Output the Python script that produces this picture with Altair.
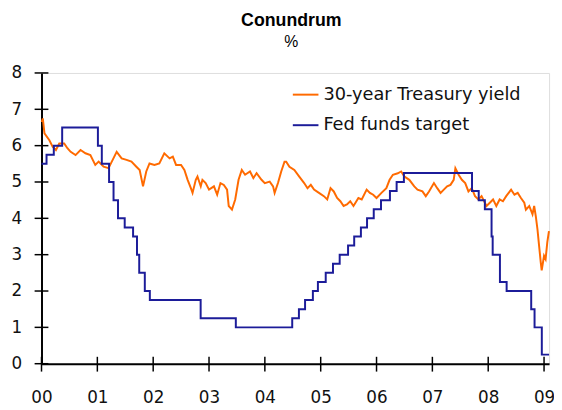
import altair as alt
import pandas as pd

# 30-year Treasury yield (decimal year, %)
ty_year = [2000.005, 2000.023, 2000.053, 2000.141, 2000.199, 2000.258, 2000.318, 2000.406, 2000.464, 2000.522,
           2000.610, 2000.699, 2000.787, 2000.875, 2000.963, 2001.023, 2001.112, 2001.200, 2001.288, 2001.346,
           2001.435, 2001.523, 2001.611, 2001.699, 2001.758, 2001.818, 2001.876, 2001.934, 2002.022, 2002.110,
           2002.199, 2002.294, 2002.352, 2002.410, 2002.499, 2002.559, 2002.617, 2002.675, 2002.705, 2002.763,
           2002.793, 2002.852, 2002.882, 2002.940, 2003.000, 2003.088, 2003.146, 2003.205, 2003.265, 2003.323,
           2003.353, 2003.411, 2003.469, 2003.529, 2003.587, 2003.646, 2003.734, 2003.794, 2003.852, 2003.940,
           2003.999, 2004.087, 2004.147, 2004.175, 2004.235, 2004.293, 2004.352, 2004.382, 2004.440, 2004.528,
           2004.616, 2004.704, 2004.764, 2004.823, 2004.881, 2004.969, 2005.057, 2005.117, 2005.176, 2005.234,
           2005.294, 2005.352, 2005.410, 2005.470, 2005.529, 2005.587, 2005.675, 2005.735, 2005.823, 2005.881,
           2005.940, 2006.000, 2006.088, 2006.176, 2006.234, 2006.293, 2006.381, 2006.441, 2006.499, 2006.587,
           2006.676, 2006.734, 2006.822, 2006.882, 2006.940, 2007.028, 2007.087, 2007.147, 2007.205, 2007.264,
           2007.324, 2007.382, 2007.412, 2007.470, 2007.528, 2007.588, 2007.646, 2007.705, 2007.764, 2007.823,
           2007.881, 2007.969, 2008.029, 2008.087, 2008.145, 2008.205, 2008.264, 2008.322, 2008.410, 2008.470,
           2008.528, 2008.586, 2008.646, 2008.675, 2008.735, 2008.793, 2008.823, 2008.852, 2008.882, 2008.911,
           2008.941, 2008.958, 2009.000, 2009.028, 2009.058, 2009.088]
ty_value = [6.65, 6.75, 6.34, 6.15, 5.97, 5.88, 6.06, 6.06, 5.93, 5.83,
            5.74, 5.88, 5.79, 5.74, 5.47, 5.56, 5.42, 5.38, 5.65, 5.83,
            5.65, 5.61, 5.56, 5.42, 5.33, 4.88, 5.29, 5.51, 5.47, 5.51,
            5.79, 5.65, 5.70, 5.47, 5.47, 5.33, 5.06, 4.83, 4.70, 5.06,
            5.15, 4.88, 5.06, 4.97, 4.79, 4.88, 4.65, 4.97, 4.92, 4.79,
            4.34, 4.24, 4.52, 5.06, 5.33, 5.20, 5.29, 5.11, 5.24, 5.06,
            4.97, 5.01, 4.88, 4.70, 4.97, 5.29, 5.56, 5.56, 5.42, 5.33,
            5.15, 4.97, 4.83, 4.92, 4.79, 4.70, 4.61, 4.52, 4.83, 4.74,
            4.56, 4.47, 4.34, 4.38, 4.47, 4.34, 4.56, 4.52, 4.79, 4.70,
            4.65, 4.56, 4.70, 4.83, 5.06, 5.20, 5.24, 5.29, 5.15, 5.06,
            4.88, 4.79, 4.74, 4.61, 4.74, 4.97, 4.83, 4.70, 4.79, 4.88,
            4.92, 5.06, 5.38, 5.20, 5.06, 4.97, 4.74, 4.83, 4.61, 4.52,
            4.61, 4.34, 4.43, 4.52, 4.34, 4.52, 4.47, 4.61, 4.79, 4.65,
            4.70, 4.56, 4.43, 4.24, 4.34, 4.11, 4.34, 4.06, 3.70, 3.25,
            2.79, 2.57, 2.97, 2.88, 3.34, 3.65]

# Fed funds target (decimal year of change, new level %)
ff_year = [2000.00, 2000.09, 2000.22, 2000.37, 2001.01, 2001.08, 2001.21, 2001.29, 2001.37, 2001.49,
           2001.64, 2001.71, 2001.75, 2001.85, 2001.94, 2002.85, 2003.48, 2004.49, 2004.61, 2004.72,
           2004.86, 2004.95, 2005.09, 2005.22, 2005.34, 2005.49, 2005.60, 2005.72, 2005.83, 2005.95,
           2006.08, 2006.24, 2006.36, 2006.49, 2007.71, 2007.83, 2007.94, 2008.06, 2008.08, 2008.21,
           2008.33, 2008.77, 2008.83, 2008.96, 2009.09]
ff_value = [5.50, 5.75, 6.00, 6.50, 6.00, 5.50, 5.00, 4.50, 4.00, 3.75,
            3.50, 3.00, 2.50, 2.00, 1.75, 1.25, 1.00, 1.25, 1.50, 1.75,
            2.00, 2.25, 2.50, 2.75, 3.00, 3.25, 3.50, 3.75, 4.00, 4.25,
            4.50, 4.75, 5.00, 5.25, 4.75, 4.50, 4.25, 3.50, 3.00, 2.25,
            2.00, 1.50, 1.00, 0.25, 0.25]

series_names = ["30-year Treasury yield", "Fed funds target"]
series_colors = ["#FF6A00", "#1C1C99"]
x_ticks = [2000, 2001, 2002, 2003, 2004, 2005, 2006, 2007, 2008, 2009]
y_ticks = [0, 1, 2, 3, 4, 5, 6, 7, 8]

ty = pd.DataFrame({"year": ty_year, "value": ty_value, "series": series_names[0]})
ff = pd.DataFrame({"year": ff_year, "value": ff_value, "series": series_names[1]})
xt = pd.DataFrame({"year": x_ticks})
yt = pd.DataFrame({"value": y_ticks})

W, H = 515, 295
FONT = "DejaVu Sans"

xscale = alt.Scale(domain=[2000, 2009.09], nice=False, zero=False)
yscale = alt.Scale(domain=[0, 8], nice=False)
color = alt.Color("series:N",
                  scale=alt.Scale(domain=series_names, range=series_colors),
                  legend=alt.Legend(title=None, orient="none", legendX=254, legendY=8,
                                    symbolType="stroke", symbolSize=676, symbolStrokeWidth=2,
                                    labelFont=FONT, labelFontSize=18, labelColor="#111",
                                    labelLimit=0, labelOffset=4, rowPadding=8))

xaxis = alt.Axis(values=x_ticks, labelExpr="substring(toString(datum.value), 2, 4)",
                 title=None, grid=False, ticks=False, domain=True, domainColor="#000",
                 domainWidth=2, labelFont=FONT, labelFontSize=17, labelColor="#111",
                 labelPadding=26, labelOverlap=False, labelFlush=False, labelAlign="center")
yaxis = alt.Axis(values=y_ticks, title=None, grid=False, ticks=False, domain=True,
                 domainColor="#000", domainWidth=2, labelFont=FONT, labelFontSize=17,
                 labelColor="#111", labelPadding=20, labelOverlap=False, labelFlush=False)

ty_line = alt.Chart(ty).mark_line(strokeWidth=2).encode(
    x=alt.X("year:Q", scale=xscale, axis=xaxis),
    y=alt.Y("value:Q", scale=yscale, axis=yaxis),
    color=color,
)
ff_line = alt.Chart(ff).mark_line(strokeWidth=2, interpolate="step-after").encode(
    x=alt.X("year:Q", scale=xscale, axis=xaxis),
    y=alt.Y("value:Q", scale=yscale, axis=yaxis),
    color=color,
)
xtick_marks = alt.Chart(xt).mark_rule(color="#000", strokeWidth=1.5).encode(
    x=alt.X("year:Q", scale=xscale, axis=xaxis),
    y=alt.value(H - 7), y2=alt.value(H + 8),
)
ytick_marks = alt.Chart(yt).mark_rule(color="#000", strokeWidth=1.5).encode(
    y=alt.Y("value:Q", scale=yscale, axis=yaxis),
    x=alt.value(-7), x2=alt.value(7),
)

chart = alt.layer(ty_line, ff_line, xtick_marks, ytick_marks).properties(
    width=W, height=H,
    title=alt.Title("Conundrum", subtitle="%", anchor="middle", dx=-4,
                    font="Liberation Sans", fontSize=18, fontWeight="bold", color="#000",
                    subtitleFont="Liberation Sans", subtitleFontSize=16, subtitleColor="#000",
                    subtitlePadding=5, offset=14),
    autosize=alt.AutoSizeParams(type="none"),
    padding={"left": 34, "top": 63, "right": 5, "bottom": 40},
).configure_view(stroke="#000", strokeWidth=1.5).configure(background="white")

chart.save("out.html", embed_options={"renderer": "svg", "actions": False})
